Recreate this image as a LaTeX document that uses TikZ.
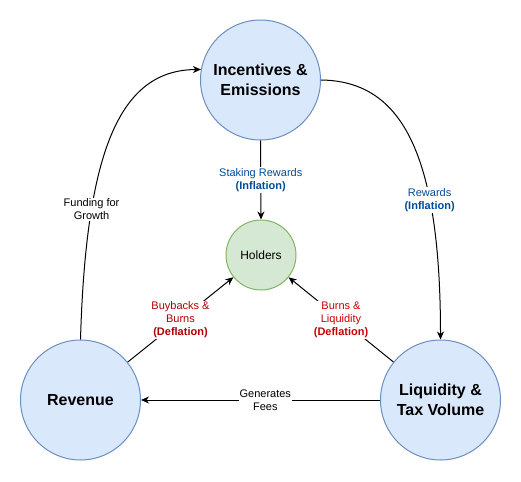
\documentclass[tikz,border=0pt]{standalone}
\usepackage{fontspec}
\setmainfont{Liberation Sans}
\usetikzlibrary{arrows.meta}
\definecolor{bluefill}{HTML}{DAE8FC}
\definecolor{bluedraw}{HTML}{6C8EBF}
\definecolor{greenfill}{HTML}{D5E8D4}
\definecolor{greendraw}{HTML}{82B366}
\definecolor{bluetext}{HTML}{004C99}
\definecolor{redtext}{HTML}{B00000}
\definecolor{brighttext}{HTML}{CC0000}
\tikzset{
  bigcircle/.style={circle, draw=bluedraw, fill=bluefill, line width=1pt, minimum size=120pt, inner sep=0pt, align=center, font=\fontsize{16}{20}\selectfont\bfseries},
  smallcircle/.style={circle, draw=greendraw, fill=greenfill, line width=1pt, minimum size=70pt, inner sep=0pt, align=center, font=\fontsize{12}{14}\selectfont},
  arr/.style={line width=1pt, -{Stealth[length=8pt,width=7pt,inset=2.5pt]}},
  lbl/.style={fill=white, inner sep=1pt, align=center, font=\fontsize{11}{13}\selectfont}
}
\begin{document}
\begin{tikzpicture}[x=1pt,y=-1pt]
\useasboundingbox (0,0) rectangle (521,481);
\node[bigcircle] (inc) at (260.5,80) {Incentives \&\\Emissions};
\node[smallcircle] (hold) at (261,255) {Holders};
\node[bigcircle] (rev) at (80.5,400) {Revenue};
\node[bigcircle] (liq) at (440.5,400) {Liquidity \&\\Tax Volume};

\draw[arr] (rev.north) .. controls (86,150) and (120,70) .. node[lbl, pos=0.27] {Funding for\\Growth} (inc.170);
\draw[arr] (inc.east) .. controls (400,81) and (440.5,150) .. node[lbl, pos=0.7, text=bluetext] {Rewards\\\textbf{(Inflation)}} (liq.north);
\draw[arr] (inc.south) -- node[lbl, pos=0.5, text=bluetext] {Staking Rewards\\\textbf{(Inflation)}} (hold.north);
\draw[arr] (rev) -- node[lbl, pos=0.5, text=redtext] {Buybacks \&\\Burns\\\textbf{(Deflation)}} (hold);
\draw[arr] (liq) -- node[lbl, pos=0.5, text=brighttext] {Burns \&\\Liquidity\\\textbf{(Deflation)}} (hold);
\draw[arr] (liq.west) -- node[lbl, pos=0.48] {Generates\\Fees} (rev.east);
\end{tikzpicture}
\end{document}
